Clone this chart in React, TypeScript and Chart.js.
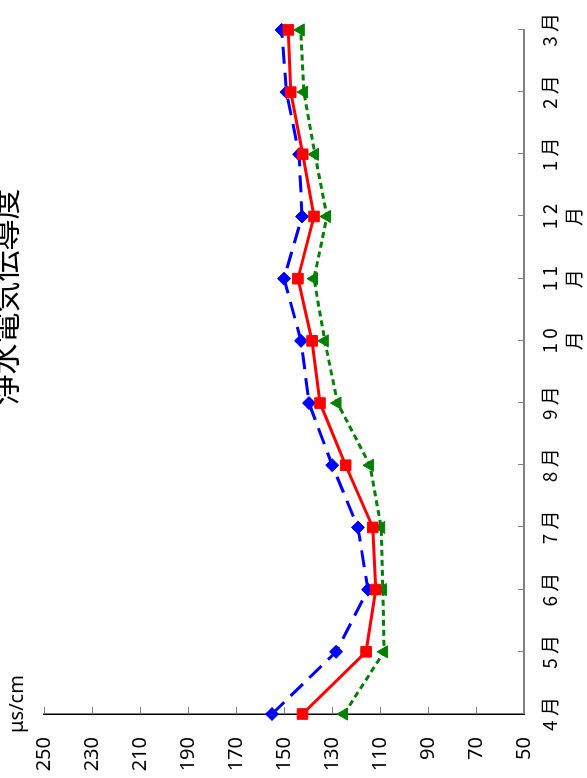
import React, { useEffect, useRef } from "react";
import { Chart, registerables } from "chart.js";

Chart.register(...registerables);

const months: (string | string[])[] = [
  "4 月", "5 月", "6 月", "7 月", "8 月", "9 月",
  ["1 0", "月"], ["1 1", "月"], ["1 2", "月"],
  "1 月", "2 月", "3 月",
];
const seriesRed = [142.3, 115.8, 111.8, 113, 124.3, 135, 138.3, 144.2, 137.5, 142.2, 147.2, 148.2];
const seriesBlue = [155, 128.3, 115, 119.2, 129.9, 139.6, 142.9, 150, 142.5, 143.7, 149, 151];
const seriesGreen = [125, 108.3, 108.8, 109.5, 114.2, 127.7, 133, 137.5, 132.1, 137.1, 141.7, 143];
const titleText = "浄水電気伝導度";
const unitText = "μs/cm";
const yMin = 50;
const yMax = 250;
const yStep = 20;

const W = 778;
const H = 587;

const overlay = {
  id: "overlay",
  beforeDatasetsDraw(chart: any) {
    const { ctx, chartArea, scales } = chart;
    const x = scales.x;
    const y = scales.y;
    ctx.save();
    ctx.strokeStyle = "#808080";
    ctx.lineWidth = 1;
    ctx.beginPath();
    x.ticks.forEach((_: any, i: number) => {
      const px = Math.round(x.getPixelForTick(i)) + 0.5;
      ctx.moveTo(px, chartArea.bottom);
      ctx.lineTo(px, chartArea.bottom - 6);
    });
    y.ticks.forEach((t: any) => {
      const py = Math.round(y.getPixelForValue(t.value)) + 0.5;
      ctx.moveTo(chartArea.left, py);
      ctx.lineTo(chartArea.left + 7, py);
    });
    ctx.stroke();
    ctx.restore();
  },
  afterDraw(chart: any) {
    const { ctx, chartArea } = chart;
    ctx.save();
    ctx.fillStyle = "#000";
    ctx.textAlign = "center";
    ctx.textBaseline = "middle";
    ctx.font = "31px 'Noto Sans CJK JP', sans-serif";
    ctx.fillText(titleText, 481, 4.5);
    ctx.font = "20px 'Noto Sans', sans-serif";
    ctx.textAlign = "center";
    ctx.textBaseline = "alphabetic";
    ctx.fillText(unitText, chartArea.left + 10, 23);
    ctx.restore();
  },
};

export default function App() {
  const ref = useRef<HTMLCanvasElement | null>(null);

  useEffect(() => {
    if (!ref.current) return;
    const chart = new Chart(ref.current, {
      type: "line",
      data: {
        labels: months,
        datasets: [
          {
            label: "系列2",
            data: seriesRed,
            borderColor: "#FF0000",
            backgroundColor: "#FF0000",
            borderWidth: 3,
            pointStyle: "rect",
            pointRadius: 7.5,
            pointBorderWidth: 1,
            pointBorderColor: "#FF0000",
            pointBackgroundColor: "#FF0000",
            tension: 0,
          },
          {
            label: "系列1",
            data: seriesBlue,
            borderColor: "#0000FF",
            backgroundColor: "#0000FF",
            borderWidth: 3,
            borderDash: [17, 9],
            pointStyle: "rectRot",
            pointRadius: 6.5,
            pointBorderWidth: 1,
            pointBorderColor: "#0000FF",
            pointBackgroundColor: "#0000FF",
            tension: 0,
          },
          {
            label: "系列3",
            data: seriesGreen,
            borderColor: "#008000",
            backgroundColor: "#008000",
            borderWidth: 3,
            borderDash: [6, 4],
            pointStyle: "triangle",
            pointRadius: 7,
            pointBorderWidth: 1,
            pointBorderColor: "#008000",
            pointBackgroundColor: "#008000",
            tension: 0,
          },
        ],
      },
      options: {
        animation: false,
        responsive: false,
        devicePixelRatio: 1,
        layout: { padding: { left: 0, top: 44, right: 27, bottom: 0 } },
        plugins: {
          legend: { display: false },
          title: { display: false },
          tooltip: { enabled: false },
        },
        scales: {
          x: {
            type: "category",
            offset: false,
            grid: { display: false, drawTicks: false },
            border: { display: true, color: "#808080", width: 2 },
            ticks: {
              autoSkip: false,
              maxRotation: 0,
              minRotation: 0,
              padding: 13,
              color: "#000",
              font: { family: "'Noto Sans CJK JP', sans-serif", size: 19, lineHeight: 1.3 },
            },
            afterFit: (s: any) => {
              s.height = 63;
            },
          },
          y: {
            min: yMin,
            max: yMax,
            grid: { display: false, drawTicks: false },
            border: { display: true, color: "#000", width: 1.5 },
            ticks: {
              stepSize: yStep,
              padding: 23,
              color: "#000",
              font: { family: "'Noto Sans', sans-serif", size: 20 },
            },
            afterFit: (s: any) => {
              s.width = 64;
            },
          },
        },
      },
      plugins: [overlay],
    });
    return () => chart.destroy();
  }, []);

  return (
    <div
      style={{
        position: "fixed",
        left: 0,
        top: 0,
        width: 587,
        height: 778,
        overflow: "hidden",
        background: "#fff",
      }}
    >
      <div
        style={{
          position: "absolute",
          left: 0,
          top: 0,
          width: W,
          height: H,
          transformOrigin: "0 0",
          transform: `translate(0px, ${W}px) rotate(-90deg)`,
        }}
      >
        <canvas ref={ref} width={W} height={H} style={{ display: "block", width: W, height: H }} />
      </div>
    </div>
  );
}
